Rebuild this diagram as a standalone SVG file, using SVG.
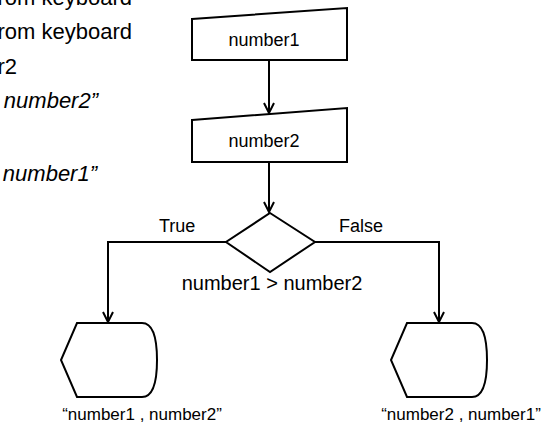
<svg xmlns="http://www.w3.org/2000/svg" width="544" height="430" viewBox="0 0 544 430">
<defs>
<style>
.shape{fill:#fff;stroke:#000;stroke-width:2;stroke-linejoin:miter}
.conn{fill:none;stroke:#000;stroke-width:2}
text{font-family:"Liberation Sans",Arial,sans-serif;font-size:18px;fill:#000}
.side{font-size:22px}
.it{font-style:italic}
.mid{text-anchor:middle}
.end{text-anchor:end}
.cond{font-size:20px}
.lbl{font-size:17px}
</style>
<marker id="arr" viewBox="0 0 12 12" refX="11" refY="6" markerWidth="12" markerHeight="12" markerUnits="userSpaceOnUse" orient="auto">
<path d="M1,1 L11,6 L1,11" fill="none" stroke="#000" stroke-width="2"/>
</marker>
</defs>
<rect width="544" height="430" fill="#fff"/>
<g id="pseudocode">
<text class="side end" x="132" y="5">rom keyboard</text>
<text class="side end" x="132" y="39">rom keyboard</text>
<text class="side end" x="17" y="74">r2</text>
<text class="side end it" x="98" y="108">number2”</text>
<text class="side end it" x="97" y="181">number1”</text>
</g>
<g id="connectors">
<path class="conn" d="M269,60 V113" marker-end="url(#arr)"/>
<path class="conn" d="M269,162 V212" marker-end="url(#arr)"/>
<path class="conn" d="M226,242 H108 V322" marker-end="url(#arr)"/>
<path class="conn" d="M315,242 H439 V322" marker-end="url(#arr)"/>
</g>
<g id="input1">
<path class="shape" d="M192,19 L347,8 L347,60 L192,60 Z"/>
<text class="mid" x="264" y="46">number1</text>
</g>
<g id="input2">
<path class="shape" d="M192,120 L347,108 L347,162 L192,162 Z"/>
<text class="mid" x="264" y="147">number2</text>
</g>
<g id="decision">
<path class="shape" d="M270,213 L315,242 L270,272 L226,242 Z"/>
<text class="mid cond" x="272" y="290">number1 &gt; number2</text>
<text x="159" y="232">True</text>
<text x="339" y="232">False</text>
</g>
<g id="display1">
<path class="shape" d="M77,323 H142 Q157,323 157,360 Q157,397 142,397 H77 L61,360 Z"/>
<text class="mid lbl" x="142" y="420">“number1 , number2”</text>
</g>
<g id="display2">
<path class="shape" d="M407,323 H472 Q487,323 487,360 Q487,397 472,397 H407 L391,360 Z"/>
<text class="mid lbl" x="461" y="420">“number2 , number1”</text>
</g>
</svg>
